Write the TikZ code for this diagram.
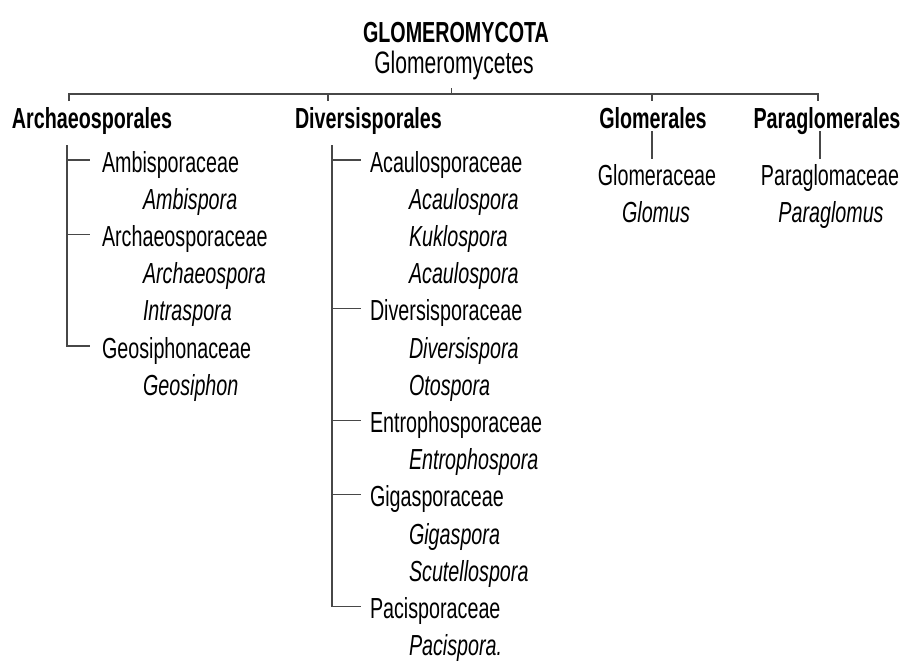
\documentclass[tikz,border=0pt]{standalone}
\usepackage{fontspec}
\setmainfont{Liberation Sans}[FakeStretch=0.68]
\begin{document}
\begin{tikzpicture}[x=1pt,y=1pt,
  lbl/.style={inner sep=0pt, outer sep=0pt, anchor=base west, text=black, font=\fontsize{29}{30}\selectfont},
  ord/.style={lbl, font=\fontsize{29}{30}\selectfont\bfseries},
  gen/.style={lbl, font=\fontsize{29}{30}\selectfont\itshape},
  ttl/.style={lbl, anchor=base, font=\fontsize{29}{30}\selectfont\bfseries},
  cls/.style={lbl, anchor=base, font=\fontsize{31}{32}\selectfont},
  ln/.style={draw=black!72, line width=1.2pt}]
\useasboundingbox[fill=white] (0,0) rectangle (905,-662);

% titles
\node[ttl] (phylum) at (456,-42) {GLOMEROMYCOTA};
\node[cls] (class) at (454,-73) {Glomeromycetes};

% orders
\node[ord] (archaeo) at (12,-128) {Archaeosporales};
\node[ord] (divers) at (295,-128) {Diversisporales};
\node[ord, anchor=base] (glomer) at (653,-128) {Glomerales};
\node[ord, anchor=base] (paragl) at (827,-128) {Paraglomerales};

% top bar
\coordinate (barL) at (69,-101);
\coordinate (barRtop) at (818,-94);
\coordinate (barR) at (818,-101);
\coordinate (tDiv) at (328,-101);
\coordinate (tGlo) at (652,-101);
\coordinate (tCls) at (451,-88);
\draw[ln] (barL) |- (barRtop) -- (barR);
\draw[ln] (tDiv |- barRtop) -- (tDiv);
\draw[ln] (tGlo |- barRtop) -- (tGlo);
\draw[ln, line width=0.8pt] (tCls |- barRtop) -- (tCls);

% Archaeosporales
\node[lbl] (ambi) at (102,-172.0) {Ambisporaceae};
\node[gen] (ambig) at (143,-209.2) {Ambispora};
\node[lbl] (archf) at (102,-246.4) {Archaeosporaceae};
\node[gen] (archg) at (143,-283.6) {Archaeospora};
\node[gen] (intra) at (143,-320.8) {Intraspora};
\node[lbl] (geos) at (102,-358.0) {Geosiphonaceae};
\node[gen] (geosg) at (143,-395.2) {Geosiphon};

\coordinate (aTrunk) at (67,-145);
\draw[ln] (aTrunk) |- ([xshift=-12pt,yshift=12pt]geos.base west);
\draw[ln] ([xshift=-35pt,yshift=12pt]ambi.base west) -- ([xshift=-12pt,yshift=12pt]ambi.base west);
\draw[ln] ([xshift=-35pt,yshift=12pt]archf.base west) -- ([xshift=-12pt,yshift=12pt]archf.base west);

% Diversisporales
\node[lbl] (acaf) at (370,-172.0) {Acaulosporaceae};
\node[gen] (acag1) at (409,-209.2) {Acaulospora};
\node[gen] (kukl) at (409,-246.4) {Kuklospora};
\node[gen] (acag2) at (409,-283.6) {Acaulospora};
\node[lbl] (divf) at (370,-320.8) {Diversisporaceae};
\node[gen] (divg) at (409,-358.0) {Diversispora};
\node[gen] (otos) at (409,-395.2) {Otospora};
\node[lbl] (entf) at (370,-432.4) {Entrophosporaceae};
\node[gen] (entg) at (409,-469.6) {Entrophospora};
\node[lbl] (gigf) at (370,-506.8) {Gigasporaceae};
\node[gen] (gigg) at (409,-544.0) {Gigaspora};
\node[gen] (scut) at (409,-581.2) {Scutellospora};
\node[lbl] (pacf) at (370,-618.4) {Pacisporaceae};
\node[gen] (pacg) at (409,-655.6) {Pacispora.};

\coordinate (dTrunk) at (332,-145);
\draw[ln] (dTrunk) |- ([xshift=-9pt,yshift=12pt]pacf.base west);
\foreach \f in {acaf,divf,entf,gigf}{
  \draw[ln] ([xshift=-38pt,yshift=12pt]\f.base west) -- ([xshift=-9pt,yshift=12pt]\f.base west);
}

% Glomerales
\node[lbl, anchor=base] (glof) at (657,-185) {Glomeraceae};
\node[gen, anchor=base] (glog) at (656,-222) {Glomus};
\coordinate (gTop) at (652,-131);
\coordinate (gBot) at (652,-159);
\draw[ln] (gTop) -- (gBot);

% Paraglomerales
\node[lbl, anchor=base] (pgf) at (830,-185) {Paraglomaceae};
\node[gen, anchor=base] (pgg) at (831,-222) {Paraglomus};
\coordinate (pTop) at (820,-131);
\coordinate (pBot) at (820,-159);
\draw[ln] (pTop) -- (pBot);
\end{tikzpicture}
\end{document}
